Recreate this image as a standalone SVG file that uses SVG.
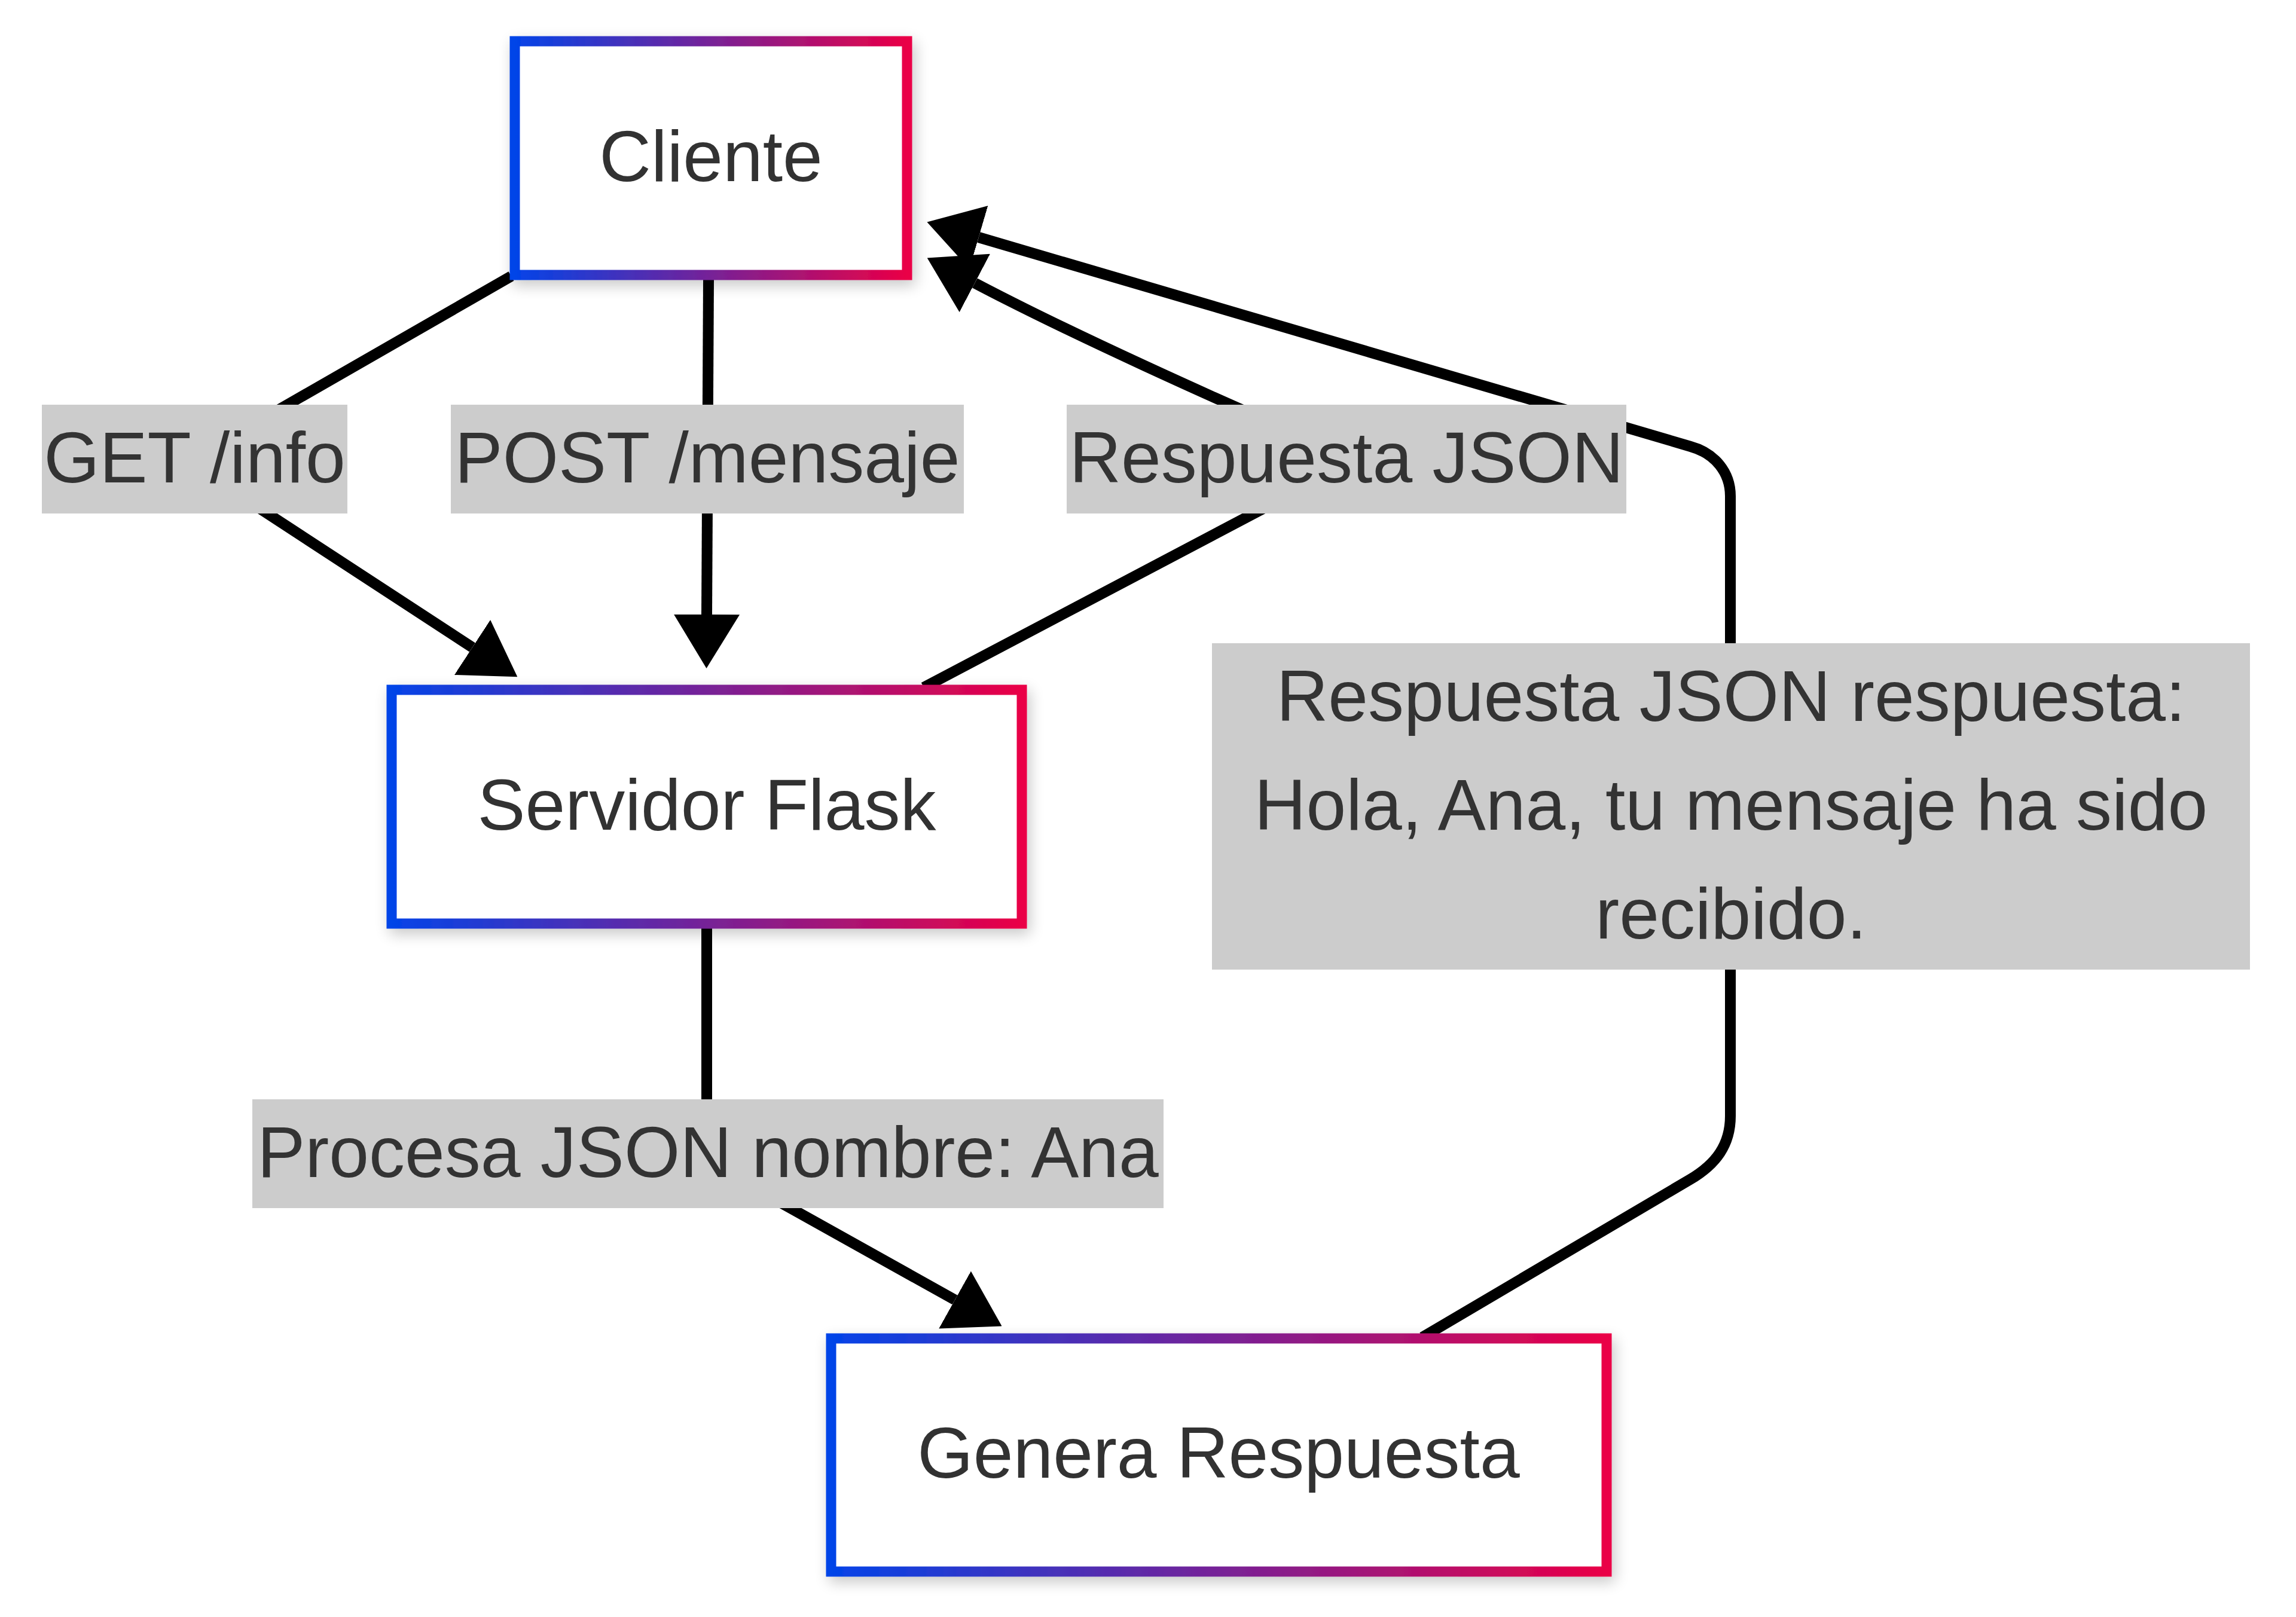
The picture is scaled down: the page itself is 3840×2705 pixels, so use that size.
<svg xmlns="http://www.w3.org/2000/svg" width="3840" height="2705" viewBox="0 0 3840 2705">
  <defs>
    <linearGradient id="grad" x1="0" y1="0" x2="1" y2="0">
      <stop offset="0" stop-color="#0344e8"/>
      <stop offset="1" stop-color="#ea0046"/>
    </linearGradient>
    <filter id="shadow" x="-10%" y="-15%" width="125%" height="140%">
      <feGaussianBlur in="SourceAlpha" stdDeviation="12"/>
      <feOffset dx="5" dy="9" result="b"/>
      <feComponentTransfer><feFuncA type="linear" slope="0.22"/></feComponentTransfer>
      <feMerge><feMergeNode/><feMergeNode in="SourceGraphic"/></feMerge>
    </filter>
    <marker id="arrow" viewBox="0 0 90 110" markerWidth="90" markerHeight="110" markerUnits="userSpaceOnUse" refX="0" refY="55" orient="auto">
      <path d="M0,0 L90,55 L0,110 z" fill="#000"/>
    </marker>
  </defs>
  <style>
    .node rect { fill: #ffffff; stroke: url(#grad); stroke-width: 17; }
    .node text, .label text { font-family: "Liberation Sans", Arial, sans-serif; font-size: 120px; fill: #333333; text-anchor: middle; }
    .edge { fill: none; stroke: #000; stroke-width: 18; stroke-linejoin: round; marker-end: url(#arrow); }
    .label rect { fill: #cccccc; }
  </style>
  <rect width="3840" height="2705" fill="#ffffff"/>

  <g id="connectors">
    <path class="edge" d="M855,462 L406,720 L380,815 L790,1083"/>
    <path class="edge" d="M1185,468 L1182,1028"/>
    <path class="edge" d="M1545,1150 L2209,800 L2180,730 C2042,671.5 1789.6,557.4 1630.3,473.5"/>
    <path class="edge" d="M2379,2237 L2826.7,1973 C2870,1947.5 2894,1915 2894,1867 L2894,830 C2894,790 2868,758 2826.7,746.7 L1636.8,397"/>
    <path class="edge" d="M1182,1553 L1182,1900 L1266.6,1990 L1597,2174.5"/>
  </g>

  <g id="node-cliente" class="node" filter="url(#shadow)">
    <rect x="861" y="69" width="656" height="391"/>
    <text x="1189" y="303">Cliente</text>
  </g>
  <g id="node-servidor" class="node" filter="url(#shadow)">
    <rect x="655" y="1154" width="1054" height="391"/>
    <text x="1182" y="1388">Servidor Flask</text>
  </g>
  <g id="node-genera" class="node" filter="url(#shadow)">
    <rect x="1390" y="2239" width="1297" height="390"/>
    <text x="2038" y="2472">Genera Respuesta</text>
  </g>

  <g id="edge-labels">
    <g id="label-get" class="label">
      <rect x="70" y="677" width="511" height="182"/>
      <text x="325.5" y="807">GET /info</text>
    </g>
    <g id="label-post" class="label">
      <rect x="754" y="677" width="858" height="182"/>
      <text x="1183" y="807">POST /mensaje</text>
    </g>
    <g id="label-respuesta" class="label">
      <rect x="1784" y="677" width="936" height="182"/>
      <text x="2252" y="807">Respuesta JSON</text>
    </g>
    <g id="label-respuesta-larga" class="label">
      <rect x="2027" y="1076" width="1736" height="546"/>
      <text x="2895" y="1206">Respuesta JSON respuesta:</text>
      <text x="2895" y="1388">Hola, Ana, tu mensaje ha sido</text>
      <text x="2895" y="1570">recibido.</text>
    </g>
    <g id="label-procesa" class="label">
      <rect x="422" y="1839" width="1524" height="182"/>
      <text x="1184" y="1969">Procesa JSON nombre: Ana</text>
    </g>
  </g>
</svg>
